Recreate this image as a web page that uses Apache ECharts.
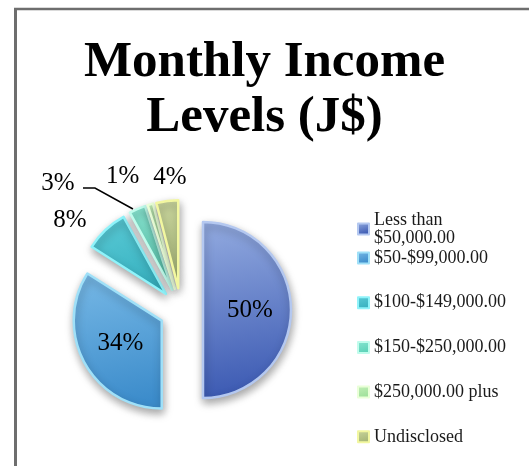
<!DOCTYPE html>
<html><head><meta charset="utf-8">
<script src="https://cdn.jsdelivr.net/npm/echarts@6/dist/echarts.min.js"></script>
<style>html,body{margin:0;padding:0;background:#fff}#c{width:529px;height:466px}</style>
</head><body><div id="c"></div>
<script>
const categories = ['Less than\n$50,000.00', '$50-$99,000.00', '$100-$149,000.00', '$150-$250,000.00', '$250,000.00 plus', 'Undisclosed'];
const values = [50, 34, 8, 3, 1, 4];
const titleText = 'Monthly Income\nLevels (J$)';

const fills = [
  ['#93abe0', '#3b59b2', '#b4c8f0'],
  ['#78b9e6', '#3c8ccb', '#9fe0f8'],
  ['#5ccbd6', '#38b2c1', '#8ff3fa'],
  ['#8ae6d2', '#5cd2b8', '#c0fcec'],
  ['#c4f0b8', '#9ee09a', '#eaffd8'],
  ['#c9d59d', '#a6b676', '#f2f7a0']
];
// label line lengths (radial, horizontal) and extra text padding for the small slices
const labelLines = {2: [13.4, 9.9, 0], 3: [28.3, 51.6, 0], 4: [28.6, 2.9, 0], 5: [24.1, 2, -24.3]};
const FONT = '"Liberation Serif", "Times New Roman", serif';

function grad(c) {
  return {type: 'linear', x: 0, y: 0, x2: 0.3, y2: 1,
    colorStops: [{offset: 0, color: c[0]}, {offset: 1, color: c[1]}]};
}

const data = values.map((v, i) => {
  const ll = labelLines[i];
  const item = {
    name: categories[i],
    value: v,
    selected: true,
    itemStyle: {color: grad(fills[i]), borderColor: fills[i][2], borderWidth: 2.5},
    label: {position: i < 2 ? 'inside' : 'outside'},
    labelLine: {show: i === 3}
  };
  if (ll) {
    item.labelLine.length = ll[0];
    item.labelLine.length2 = ll[1];
    item.label.padding = [0, ll[2], 0, 0];
  }
  return item;
});

const chart = echarts.init(document.getElementById('c'));
chart.setOption({
  animation: false,
  title: {
    text: titleText, left: 'center', top: 30,
    textStyle: {fontFamily: FONT, fontWeight: 'bold', fontSize: 51, lineHeight: 55, color: '#000'}
  },
  legend: [{
    data: [categories[0]], orient: 'vertical', left: 357, top: 202, padding: 0,
    itemWidth: 11, itemHeight: 11, icon: 'rect',
    selectedMode: false,
    textStyle: {fontFamily: FONT, fontSize: 18, lineHeight: 18, color: '#1a1a1a', padding: [18, 0, 0, 0]}
  }, {
    data: categories.slice(1), orient: 'vertical', left: 357, top: 249, padding: 0, itemGap: 26.7,
    itemWidth: 11, itemHeight: 11, icon: 'rect',
    selectedMode: false,
    textStyle: {fontFamily: FONT, fontSize: 18, lineHeight: 18, color: '#1a1a1a'}
  }],
  graphic: [
    {type: 'line', shape: {x1: 14, y1: 9, x2: 529, y2: 9}, style: {stroke: '#6e6e6e', lineWidth: 2.5}},
    {type: 'line', shape: {x1: 15.5, y1: 8, x2: 15.5, y2: 466}, style: {stroke: '#6e6e6e', lineWidth: 3}}
  ],
  series: [{
    type: 'pie',
    center: [181, 310],
    radius: [0, 88],
    startAngle: 90,
    clockwise: true,
    avoidLabelOverlap: false,
    selectedMode: 'multiple',
    selectedOffset: 22,
    data: data,
    itemStyle: {shadowBlur: 8, shadowColor: 'rgba(0,0,0,0.35)', shadowOffsetY: 4, shadowOffsetX: 1},
    emphasis: {disabled: true},
    label: {
      formatter: '{d}%', fontFamily: FONT, fontSize: 25, color: '#000', distanceToLabelLine: 0
    },
    labelLine: {lineStyle: {color: '#000', width: 1.5}},
    labelLayout: function (p) {
      if (p.dataIndex === 3) return {labelLinePoints: [[141.7, 229.2], [103.7, 208.2], [91.7, 208.2]]};
      return {};
    }
  }]
});
</script></body></html>
